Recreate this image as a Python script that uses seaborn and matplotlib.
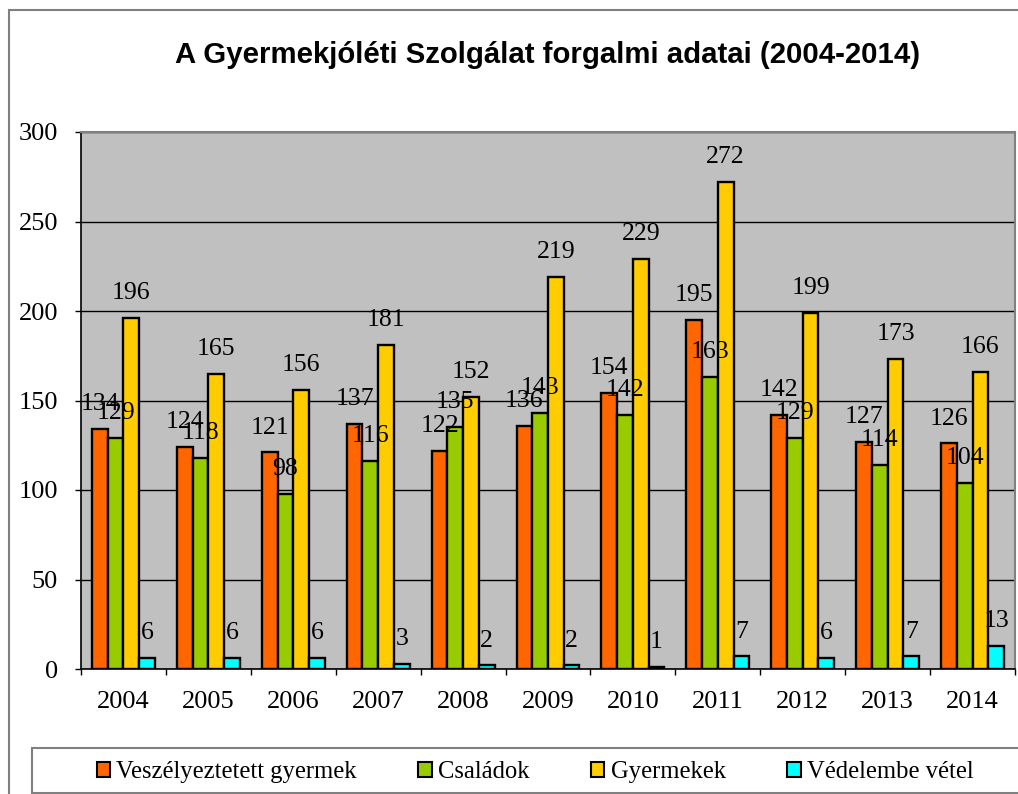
import pandas as pd
import seaborn as sns
import matplotlib.pyplot as plt
import matplotlib.patches as mpatches

years = ["2004", "2005", "2006", "2007", "2008", "2009", "2010", "2011", "2012", "2013", "2014"]
series_names = ["Veszélyeztetett gyermek", "Családok", "Gyermekek", "Védelembe vétel"]
veszelyeztetett = [134, 124, 121, 137, 122, 136, 154, 195, 142, 127, 126]
csaladok = [129, 118, 98, 116, 135, 143, 142, 163, 129, 114, 104]
gyermekek = [196, 165, 156, 181, 152, 219, 229, 272, 199, 173, 166]
vedelembe = [6, 6, 6, 3, 2, 2, 1, 7, 6, 7, 13]
colors = ["#FF6600", "#99CC00", "#FFCC00", "#00FFFF"]

rows = []
for name, vals in zip(series_names, [veszelyeztetett, csaladok, gyermekek, vedelembe]):
    for y, v in zip(years, vals):
        rows.append({"year": y, "series": name, "value": v})
df = pd.DataFrame(rows)

serif = ["Liberation Serif", "DejaVu Serif"]
plt.rcParams["font.family"] = serif

fig = plt.figure(figsize=(10.18, 7.94), dpi=100)
ax = fig.add_axes([81 / 1018, 1 - 669 / 794, (1015 - 81) / 1018, (669 - 132) / 794])
ax.set_facecolor("#C0C0C0")

sns.barplot(data=df, x="year", y="value", hue="series", hue_order=series_names,
            palette=colors, saturation=1, edgecolor="black", linewidth=1.7,
            width=0.74, gap=0, legend=False, ax=ax, zorder=3)

# value labels above every bar
for c in ax.containers:
    ax.bar_label(c, fontsize=18.5, padding=10, family=serif, zorder=4)

ax.set_ylim(0, 300)
ax.set_xlim(-0.5, len(years) - 0.5)
ax.set_yticks(range(0, 301, 50))
ax.yaxis.grid(True, color="black", linewidth=1, zorder=0)
ax.set_axisbelow(True)
ax.set_xlabel("")
ax.set_ylabel("")
ax.tick_params(axis="y", labelsize=19, length=4, width=1, pad=12.5)
ax.tick_params(axis="x", which="major", labelsize=19, length=0, pad=16)
ax.set_xticks([i - 0.5 for i in range(len(years) + 1)], minor=True)
ax.tick_params(axis="x", which="minor", length=4, width=1, direction="out")

for side in ["left", "bottom"]:
    ax.spines[side].set_color("black")
    ax.spines[side].set_linewidth(1.2)
for side in ["top", "right"]:
    ax.spines[side].set_color("#808080")
    ax.spines[side].set_linewidth(1.5)

fig.text(548 / 1018, 1 - 55 / 794, "A Gyermekjóléti Szolgálat forgalmi adatai (2004-2014)",
         ha="center", va="center", fontsize=21.2, fontweight="bold",
         family=["Liberation Sans", "DejaVu Sans"])

# outer chart border (right/bottom run off the canvas)
fig.patches.append(mpatches.Rectangle((9 / 1018, -0.2), 1.2, 1 - 10 / 794 + 0.2,
                                      transform=fig.transFigure, fill=False,
                                      edgecolor="#808080", linewidth=1.5))
# legend box
fig.patches.append(mpatches.Rectangle((32 / 1018, 1 / 794), 1.2, (793 - 748) / 794,
                                      transform=fig.transFigure, fill=True, facecolor="white",
                                      edgecolor="#808080", linewidth=1.5))

handles = [mpatches.Patch(facecolor=c, edgecolor="black", linewidth=1.5) for c in colors]
fig.legend(handles, series_names, loc="center", bbox_to_anchor=(535 / 1018, 1 - 772 / 794),
           ncol=4, frameon=False, handlelength=0.55, handleheight=0.55,
           handletextpad=0.25, columnspacing=2.5, borderpad=0,
           prop={"family": serif, "size": 17.7})

fig.savefig("out.png", dpi=100)
